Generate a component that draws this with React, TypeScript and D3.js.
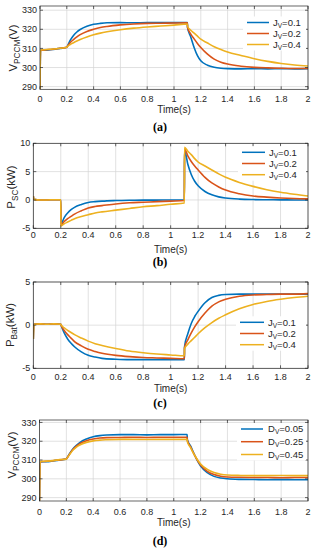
import React from 'react';
import * as d3 from 'd3';

// ---------- data ----------
const TIME = [0, 0.004, 0.05, 0.1, 0.15, 0.2, 0.201, 0.225, 0.25, 0.275, 0.3, 0.35, 0.4, 0.45, 0.5, 0.6, 0.7, 0.8, 0.9, 1.0, 1.1, 1.101, 1.125, 1.15, 1.175, 1.2, 1.25, 1.3, 1.35, 1.4, 1.5, 1.6, 1.7, 1.8, 1.9, 2.0];

// (a) V_PCCM for Jv = 0.1, 0.2, 0.4
const A_J01 = [288.6, 309.0, 309.1, 309.5, 310.0, 310.6, 310.7, 314.2, 316.8, 318.6, 319.9, 321.6, 322.6, 323.1, 323.4, 323.5, 323.4, 323.5, 323.5, 323.5, 323.6, 321.0, 316.0, 310.5, 306.2, 303.5, 301.2, 300.1, 299.6, 299.4, 299.3, 299.4, 299.3, 299.4, 299.3, 299.4];
const A_J02 = [288.6, 309.0, 309.3, 309.6, 310.1, 310.6, 310.7, 313.0, 314.6, 316.0, 317.2, 318.9, 320.0, 320.9, 321.5, 322.3, 322.8, 323.1, 323.2, 323.3, 323.4, 321.0, 317.5, 315.0, 312.6, 310.5, 307.0, 304.4, 302.8, 301.8, 300.7, 300.1, 299.8, 299.6, 299.5, 299.5];
const A_J04 = [288.6, 309.2, 309.4, 309.7, 310.1, 310.6, 310.7, 312.0, 313.0, 313.9, 314.7, 316.0, 317.1, 318.0, 318.7, 319.8, 320.6, 321.2, 321.7, 322.2, 322.8, 321.5, 319.5, 318.0, 316.4, 314.8, 312.8, 310.9, 309.4, 308.1, 306.3, 304.6, 303.2, 302.1, 301.3, 300.8];

// (b) P_SC
const B_J01 = [0.7, 0.1, 0.0, 0.0, 0.05, 0.05, -4.3, -3.1, -2.3, -1.7, -1.3, -0.8, -0.45, -0.3, -0.2, -0.1, -0.05, -0.03, -0.02, 0.0, 0.0, 8.8, 6.3, 4.5, 3.3, 2.5, 1.5, 0.9, 0.55, 0.35, 0.15, 0.07, 0.04, 0.02, 0.0, 0.0];
const B_J02 = [0.7, 0.1, 0.0, 0.0, 0.05, 0.05, -4.5, -3.8, -3.3, -2.9, -2.5, -1.9, -1.4, -1.15, -1.0, -0.7, -0.5, -0.4, -0.3, -0.2, -0.1, 9.0, 7.8, 6.8, 6.0, 5.3, 4.0, 3.0, 2.3, 1.75, 1.1, 0.7, 0.5, 0.35, 0.25, 0.2];
const B_J04 = [0.7, 0.1, 0.0, 0.0, 0.05, 0.05, -4.6, -4.2, -3.9, -3.6, -3.3, -2.9, -2.6, -2.3, -2.1, -1.8, -1.5, -1.2, -1.0, -0.75, -0.55, 9.3, 8.6, 8.0, 7.3, 6.7, 6.0, 5.3, 4.6, 4.0, 3.1, 2.4, 1.8, 1.35, 1.0, 0.7];

// (c) P_Bat
const C_J01 = [-1.6, 0.1, 0.15, 0.1, 0.15, 0.1, 0.05, -0.9, -1.6, -2.1, -2.5, -3.1, -3.5, -3.7, -3.85, -3.95, -4.0, -4.0, -4.0, -4.0, -4.0, -2.5, -1.0, 0.2, 1.0, 1.6, 2.6, 3.2, 3.45, 3.55, 3.6, 3.6, 3.6, 3.6, 3.6, 3.6];
const C_J02 = [-1.6, 0.1, 0.15, 0.1, 0.15, 0.1, 0.05, -0.6, -1.1, -1.5, -1.9, -2.4, -2.8, -3.05, -3.25, -3.5, -3.65, -3.75, -3.8, -3.85, -3.9, -2.6, -1.7, -0.9, -0.2, 0.4, 1.4, 2.2, 2.7, 3.0, 3.35, 3.5, 3.55, 3.6, 3.6, 3.65];
const C_J04 = [-1.6, 0.1, 0.15, 0.1, 0.15, 0.1, 0.05, -0.3, -0.6, -0.85, -1.1, -1.5, -1.85, -2.15, -2.35, -2.7, -3.0, -3.2, -3.35, -3.45, -3.55, -2.7, -2.2, -1.8, -1.4, -1.0, -0.3, 0.3, 0.8, 1.2, 1.9, 2.4, 2.75, 3.0, 3.2, 3.35];

// (d) V_PCCM for Dv = 0.05, 0.25, 0.45
const D_D005 = [288.3, 309.0, 309.1, 309.5, 310.0, 310.5, 310.6, 313.5, 316.0, 317.8, 319.3, 321.2, 322.4, 323.0, 323.3, 323.5, 323.5, 323.4, 323.5, 323.5, 323.6, 321.0, 317.5, 313.5, 309.8, 306.8, 303.3, 301.3, 300.4, 300.0, 299.7, 299.6, 299.5, 299.6, 299.5, 299.5];
const D_D025 = [288.3, 309.1, 309.3, 309.6, 310.1, 310.5, 310.6, 313.3, 315.7, 317.4, 318.7, 320.3, 321.2, 321.7, 321.9, 322.0, 322.1, 322.0, 322.1, 322.1, 322.1, 320.5, 317.0, 313.3, 310.0, 307.3, 304.0, 302.3, 301.4, 301.0, 300.8, 300.7, 300.7, 300.6, 300.7, 300.7];
const D_D045 = [288.3, 309.2, 309.4, 309.7, 310.2, 310.5, 310.6, 313.0, 315.3, 316.9, 318.0, 319.4, 320.2, 320.6, 320.8, 321.0, 321.0, 320.9, 321.0, 321.0, 321.0, 319.8, 316.6, 313.2, 310.3, 307.9, 305.0, 303.3, 302.4, 302.0, 301.8, 301.7, 301.7, 301.8, 301.7, 301.7];

const X_TICKS = [0, 0.2, 0.4, 0.6, 0.8, 1, 1.2, 1.4, 1.6, 1.8, 2];
const V_TICKS = [290, 300, 310, 320, 330];
const PSC_TICKS = [-5, 0, 5, 10];
const PBAT_TICKS = [-5, 0, 5];
const J_VALUES = ['0.1', '0.2', '0.4'];
const D_VALUES = ['0.05', '0.25', '0.45'];

const COLORS = ['#0072BD', '#D95319', '#EDB120'];
const FONT = '"Liberation Sans", Arial, Helvetica, sans-serif';
const AXIS = '#262626';
const GRID = '#d4d4d4';

type PanelCfg = {
  id: string;
  left: number; right: number; top: number; bottom: number;
  yDomain: [number, number];
  yTicks: number[];
  series: number[][];
  legendVar: string;
  legendVals: string[];
  legend: { x1: number; x2: number; tx: number; rows: number[] };
  ylabel: { main: string; sub: string; unit: string; x: number; y: number };
  tickY: number; titleY: number; letter: string; letterY: number;
};

const PANELS: PanelCfg[] = [
  {
    id: 'a', left: 40, right: 308, top: 6, bottom: 89.3, yDomain: [288.6, 332.2], yTicks: V_TICKS,
    series: [A_J01, A_J02, A_J04], legendVar: 'J', legendVals: J_VALUES,
    legend: { x1: 247, x2: 269, tx: 273, rows: [22.5, 33.5, 44.5] },
    ylabel: { main: 'V', sub: 'PCCM', unit: '(V)', x: 13, y: 48 },
    tickY: 102, titleY: 112.5, letter: '(a)', letterY: 131,
  },
  {
    id: 'b', left: 33.3, right: 308, top: 143.3, bottom: 228.3, yDomain: [-5, 10], yTicks: PSC_TICKS,
    series: [B_J01, B_J02, B_J04], legendVar: 'J', legendVals: J_VALUES,
    legend: { x1: 242, x2: 265, tx: 269, rows: [152.3, 163.5, 174.7] },
    ylabel: { main: 'P', sub: 'SC', unit: '(kW)', x: 11, y: 187 },
    tickY: 237.5, titleY: 252.5, letter: '(b)', letterY: 266,
  },
  {
    id: 'c', left: 33.3, right: 308, top: 282, bottom: 368.3, yDomain: [-5, 5], yTicks: PBAT_TICKS,
    series: [C_J01, C_J02, C_J04], legendVar: 'J', legendVals: J_VALUES,
    legend: { x1: 240, x2: 264, tx: 268, rows: [322.3, 333.5, 344.7] },
    ylabel: { main: 'P', sub: 'Bat', unit: '(kW)', x: 10, y: 325 },
    tickY: 380, titleY: 391.5, letter: '(c)', letterY: 407,
  },
  {
    id: 'd', left: 39.5, right: 308, top: 420, bottom: 501, yDomain: [288.2, 331.3], yTicks: V_TICKS,
    series: [D_D005, D_D025, D_D045], legendVar: 'D', legendVals: D_VALUES,
    legend: { x1: 241, x2: 263, tx: 268, rows: [429, 441.7, 454.5] },
    ylabel: { main: 'V', sub: 'PCCM', unit: '(V)', x: 12, y: 455 },
    tickY: 514.5, titleY: 525.5, letter: '(d)', letterY: 545,
  },
];

function Panel({ p }: { p: PanelCfg }) {
  const x = d3.scaleLinear().domain([0, 2]).range([p.left, p.right]);
  const y = d3.scaleLinear().domain(p.yDomain).range([p.bottom, p.top]);
  const line = d3
    .line<number>()
    .x((_, i) => x(TIME[i]))
    .y((v) => y(v))
    .curve(d3.curveMonotoneX);
  const clipId = `clip-${p.id}`;
  const tl = 3;
  const lg = p.legend;
  return (
    <g>
      <defs>
        <clipPath id={clipId}>
          <rect x={p.left} y={p.top} width={p.right - p.left} height={p.bottom - p.top} />
        </clipPath>
      </defs>
      <rect x={p.left} y={p.top} width={p.right - p.left} height={p.bottom - p.top} fill="#fff" />
      {X_TICKS.map((t) => (
        <line key={`gx${t}`} x1={x(t)} x2={x(t)} y1={p.top} y2={p.bottom} stroke={GRID} strokeWidth={0.7} />
      ))}
      {p.yTicks.map((t) => (
        <line key={`gy${t}`} x1={p.left} x2={p.right} y1={y(t)} y2={y(t)} stroke={GRID} strokeWidth={0.7} />
      ))}
      <g clipPath={`url(#${clipId})`}>
        {p.series.map((s, i) => (
          <path key={i} d={line(s) || ''} fill="none" stroke={COLORS[i]} strokeWidth={1.6} strokeLinejoin="round" />
        ))}
      </g>
      <rect x={p.left} y={p.top} width={p.right - p.left} height={p.bottom - p.top} fill="none" stroke={AXIS} strokeWidth={0.7} />
      {X_TICKS.map((t) => (
        <g key={`tx${t}`}>
          <line x1={x(t)} x2={x(t)} y1={p.bottom} y2={p.bottom - tl} stroke={AXIS} strokeWidth={0.7} />
          <line x1={x(t)} x2={x(t)} y1={p.top} y2={p.top + tl} stroke={AXIS} strokeWidth={0.7} />
          <text x={x(t)} y={p.tickY} textAnchor="middle" fontSize={9} fontFamily={FONT} fill={AXIS}>
            {String(t)}
          </text>
        </g>
      ))}
      {p.yTicks.map((t) => (
        <g key={`ty${t}`}>
          <line x1={p.left} x2={p.left + tl} y1={y(t)} y2={y(t)} stroke={AXIS} strokeWidth={0.7} />
          <line x1={p.right} x2={p.right - tl} y1={y(t)} y2={y(t)} stroke={AXIS} strokeWidth={0.7} />
          <text x={p.left - 3} y={y(t)} dy="0.35em" textAnchor="end" fontSize={9} fontFamily={FONT} fill={AXIS}>
            {String(t)}
          </text>
        </g>
      ))}
      <rect x={lg.x1 - 4} y={lg.rows[0] - 6} width={p.right - 2 - (lg.x1 - 4)} height={lg.rows[2] - lg.rows[0] + 12} fill="#fff" />
      {p.legendVals.map((v, i) => (
        <g key={`lg${i}`}>
          <line x1={lg.x1} x2={lg.x2} y1={lg.rows[i]} y2={lg.rows[i]} stroke={COLORS[i]} strokeWidth={1.5} />
          <text x={lg.tx} y={lg.rows[i]} dy="0.35em" fontSize={9.5} fontFamily={FONT} fill={AXIS}>
            {p.legendVar}
            <tspan fontSize={6.5} dy={2}>V</tspan>
            <tspan dy={-2}>{`=${v}`}</tspan>
          </text>
        </g>
      ))}
      <text x={(p.left + p.right) / 2} y={p.titleY} textAnchor="middle" fontSize={10} fontFamily={FONT} fill={AXIS}>
        Time(s)
      </text>
      <text
        transform={`translate(${p.ylabel.x},${p.ylabel.y}) rotate(-90)`}
        textAnchor="middle"
        dy="0.35em"
        fontSize={11.5}
        fontFamily={FONT}
        fill={AXIS}
      >
        {p.ylabel.main}
        <tspan fontSize={8.2} dy={2.8}>{p.ylabel.sub}</tspan>
        <tspan dy={-2.8}>{p.ylabel.unit}</tspan>
      </text>
      <text x={160} y={p.letterY} textAnchor="middle" fontSize={12} fontWeight="bold" fontFamily='"Liberation Serif", "DejaVu Serif", serif' fill="#000">
        {p.letter}
      </text>
    </g>
  );
}

export default function App() {
  return (
    <svg
      width={318}
      height={550}
      viewBox="0 0 318 550"
      style={{ position: 'absolute', left: 0, top: 0, background: '#fff' }}
    >
      <rect x={0} y={0} width={318} height={550} fill="#fff" />
      {PANELS.map((p) => (
        <Panel key={p.id} p={p} />
      ))}
    </svg>
  );
}
